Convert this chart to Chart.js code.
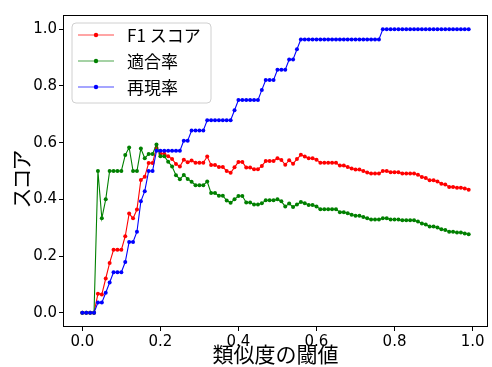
<!DOCTYPE html>
<html lang="ja">
<head>
  <meta charset="UTF-8">
  <title>閾値とスコア</title>
  <script src="https://cdn.jsdelivr.net/npm/chart.js"></script>
  <style>
    html, body { margin: 0; padding: 0; background: #fff; }
    #wrap { width: 492px; height: 367px; position: relative; }
  </style>
</head>
<body>
<div id="wrap"><canvas id="chart"></canvas></div>
<script>
  // 類似度の閾値 (x)
  const thresholds = [
    0.00, 0.01, 0.02, 0.03, 0.04, 0.05, 0.06, 0.07, 0.08, 0.09,
    0.10, 0.11, 0.12, 0.13, 0.14, 0.15, 0.16, 0.17, 0.18, 0.19,
    0.20, 0.21, 0.22, 0.23, 0.24, 0.25, 0.26, 0.27, 0.28, 0.29,
    0.30, 0.31, 0.32, 0.33, 0.34, 0.35, 0.36, 0.37, 0.38, 0.39,
    0.40, 0.41, 0.42, 0.43, 0.44, 0.45, 0.46, 0.47, 0.48, 0.49,
    0.50, 0.51, 0.52, 0.53, 0.54, 0.55, 0.56, 0.57, 0.58, 0.59,
    0.60, 0.61, 0.62, 0.63, 0.64, 0.65, 0.66, 0.67, 0.68, 0.69,
    0.70, 0.71, 0.72, 0.73, 0.74, 0.75, 0.76, 0.77, 0.78, 0.79,
    0.80, 0.81, 0.82, 0.83, 0.84, 0.85, 0.86, 0.87, 0.88, 0.89,
    0.90, 0.91, 0.92, 0.93, 0.94, 0.95, 0.96, 0.97, 0.98, 0.99
  ];

  const f1Scores = [
    0, 0, 0, 0, 0.067, 0.065, 0.121, 0.176, 0.222, 0.222,
    0.222, 0.270, 0.350, 0.333, 0.364, 0.468, 0.480, 0.528, 0.528, 0.582,
    0.561, 0.561, 0.552, 0.542, 0.525, 0.516, 0.540, 0.531, 0.537, 0.529,
    0.529, 0.529, 0.551, 0.521, 0.521, 0.514, 0.514, 0.500, 0.494, 0.513,
    0.532, 0.532, 0.512, 0.512, 0.506, 0.506, 0.518, 0.535, 0.535, 0.535,
    0.545, 0.539, 0.522, 0.538, 0.526, 0.542, 0.557, 0.551, 0.545, 0.545,
    0.540, 0.529, 0.529, 0.529, 0.529, 0.529, 0.519, 0.519, 0.514, 0.509,
    0.505, 0.505, 0.500, 0.495, 0.491, 0.491, 0.491, 0.500, 0.500, 0.496,
    0.496, 0.496, 0.491, 0.491, 0.491, 0.491, 0.487, 0.479, 0.475, 0.467,
    0.467, 0.463, 0.455, 0.452, 0.444, 0.444, 0.441, 0.441, 0.438, 0.434
  ];

  const precisionScores = [
    0, 0, 0, 0, 0.500, 0.333, 0.400, 0.500, 0.500, 0.500,
    0.500, 0.556, 0.583, 0.500, 0.500, 0.579, 0.545, 0.560, 0.560, 0.593,
    0.552, 0.552, 0.533, 0.516, 0.485, 0.471, 0.486, 0.472, 0.462, 0.450,
    0.450, 0.450, 0.463, 0.422, 0.422, 0.413, 0.413, 0.396, 0.388, 0.400,
    0.412, 0.412, 0.389, 0.389, 0.382, 0.382, 0.386, 0.397, 0.397, 0.397,
    0.400, 0.393, 0.375, 0.385, 0.373, 0.382, 0.391, 0.386, 0.380, 0.380,
    0.375, 0.365, 0.365, 0.365, 0.365, 0.365, 0.355, 0.355, 0.351, 0.346,
    0.342, 0.342, 0.338, 0.333, 0.329, 0.329, 0.329, 0.333, 0.333, 0.329,
    0.329, 0.329, 0.326, 0.326, 0.326, 0.326, 0.322, 0.315, 0.311, 0.304,
    0.304, 0.301, 0.295, 0.292, 0.286, 0.286, 0.283, 0.283, 0.280, 0.277
  ];

  const recallScores = [
    0, 0, 0, 0, 0.036, 0.036, 0.071, 0.107, 0.143, 0.143,
    0.143, 0.179, 0.250, 0.250, 0.286, 0.393, 0.429, 0.500, 0.500, 0.571,
    0.571, 0.571, 0.571, 0.571, 0.571, 0.571, 0.607, 0.607, 0.643, 0.643,
    0.643, 0.643, 0.679, 0.679, 0.679, 0.679, 0.679, 0.679, 0.679, 0.714,
    0.750, 0.750, 0.750, 0.750, 0.750, 0.750, 0.786, 0.821, 0.821, 0.821,
    0.857, 0.857, 0.857, 0.893, 0.893, 0.929, 0.964, 0.964, 0.964, 0.964,
    0.964, 0.964, 0.964, 0.964, 0.964, 0.964, 0.964, 0.964, 0.964, 0.964,
    0.964, 0.964, 0.964, 0.964, 0.964, 0.964, 0.964, 1.000, 1.000, 1.000,
    1.000, 1.000, 1.000, 1.000, 1.000, 1.000, 1.000, 1.000, 1.000, 1.000,
    1.000, 1.000, 1.000, 1.000, 1.000, 1.000, 1.000, 1.000, 1.000, 1.000
  ];

  const seriesNames = ['F1 スコア', '適合率', '再現率'];
  const seriesColors = ['#ff0000', '#008000', '#0000ff'];
  const xTicks = [0.0, 0.2, 0.4, 0.6, 0.8, 1.0];
  const yTicks = [0.0, 0.2, 0.4, 0.6, 0.8, 1.0];
  const yTitle = 'スコア';

  const jpFont = "'Noto Sans CJK JP', 'DejaVu Sans', sans-serif";
  const numFont = "'DejaVu Sans', sans-serif";

  function toPoints(vals) {
    return thresholds.map((t, i) => ({ x: t, y: vals[i] }));
  }

  // full box round the plot, y title, legend in upper left
  const boxPlugin = {
    id: 'boxAndLegend',
    beforeDraw(chart) {
      const c = chart.ctx;
      c.save();
      c.fillStyle = '#fff';
      c.fillRect(0, 0, chart.width, chart.height);
      c.restore();
    },
    afterDraw(chart) {
      const c = chart.ctx;
      const a = chart.chartArea;
      c.save();
      c.strokeStyle = '#000';
      c.lineWidth = 1;
      c.strokeRect(Math.round(a.left) + 0.5, Math.round(a.top) + 0.5,
        Math.round(a.right - a.left) - 1, Math.round(a.bottom - a.top) - 1);

      // y title, kana set a bit tighter like the original
      c.save();
      c.translate(21, 180);
      c.rotate(-Math.PI / 2);
      c.font = '21px ' + jpFont;
      if ('letterSpacing' in c) c.letterSpacing = '-2px';
      c.fillStyle = '#000';
      c.textAlign = 'center';
      c.textBaseline = 'middle';
      c.fillText(yTitle, 0, 0);
      c.restore();

      // legend
      const lx = 72, ly = 23, lw = 139, lh = 80, r = 4;
      c.beginPath();
      c.moveTo(lx + r, ly);
      c.arcTo(lx + lw, ly, lx + lw, ly + lh, r);
      c.arcTo(lx + lw, ly + lh, lx, ly + lh, r);
      c.arcTo(lx, ly + lh, lx, ly, r);
      c.arcTo(lx, ly, lx + lw, ly, r);
      c.closePath();
      c.fillStyle = 'rgba(255,255,255,0.8)';
      c.fill();
      c.strokeStyle = '#d0d0d0';
      c.stroke();

      c.font = '17px ' + jpFont;
      c.textBaseline = 'middle';
      seriesNames.forEach((name, i) => {
        const y = 35 + i * 26;
        c.strokeStyle = seriesColors[i];
        c.globalAlpha = 0.7;
        c.lineWidth = 1.2;
        c.beginPath();
        c.moveTo(78, y);
        c.lineTo(114, y);
        c.stroke();
        c.globalAlpha = 1;
        c.fillStyle = seriesColors[i];
        c.beginPath();
        c.arc(96, y, 2.2, 0, Math.PI * 2);
        c.fill();
        c.fillStyle = '#000';
        c.fillText(name, 127, y + 1);
      });
      c.restore();
    }
  };

  const datasets = [f1Scores, precisionScores, recallScores].map((vals, i) => ({
    label: seriesNames[i],
    data: toPoints(vals),
    borderColor: seriesColors[i],
    backgroundColor: seriesColors[i],
    borderWidth: 1.1,
    pointRadius: 2,
    pointBorderWidth: 0,
    pointBackgroundColor: seriesColors[i],
    tension: 0,
    order: 2 - i
  }));

  new Chart(document.getElementById('chart'), {
    type: 'line',
    data: { datasets },
    options: {
      responsive: true,
      maintainAspectRatio: false,
      animation: false,
      events: [],
      layout: { padding: { left: 0, top: 15, right: 2, bottom: 0 } },
      plugins: { legend: { display: false }, tooltip: { enabled: false } },
      scales: {
        x: {
          type: 'linear',
          min: -0.0495,
          max: 1.0395,
          afterBuildTicks: s => { s.ticks = xTicks.map(v => ({ value: v })); },
          afterFit: s => { s.height = 40; },
          border: { display: false },
          grid: { drawOnChartArea: false, drawTicks: true, tickLength: 4, color: '#000' },
          ticks: {
            color: '#000',
            font: { family: numFont, size: 15 },
            padding: 2,
            maxRotation: 0,
            callback: v => Number(v).toFixed(1)
          },
          title: {
            display: true,
            text: '類似度の閾値',
            color: '#000',
            font: { family: jpFont, size: 21 },
            padding: { top: 0, bottom: 0 }
          }
        },
        y: {
          type: 'linear',
          min: -0.05,
          max: 1.05,
          afterBuildTicks: s => { s.ticks = yTicks.map(v => ({ value: v })); },
          afterFit: s => { s.width = 63; },
          border: { display: false },
          grid: { drawOnChartArea: false, drawTicks: true, tickLength: 4, color: '#000' },
          ticks: {
            color: '#000',
            font: { family: numFont, size: 15 },
            padding: 2,
            callback: v => Number(v).toFixed(1)
          }
        }
      }
    },
    plugins: [boxPlugin]
  });
</script>
</body>
</html>
